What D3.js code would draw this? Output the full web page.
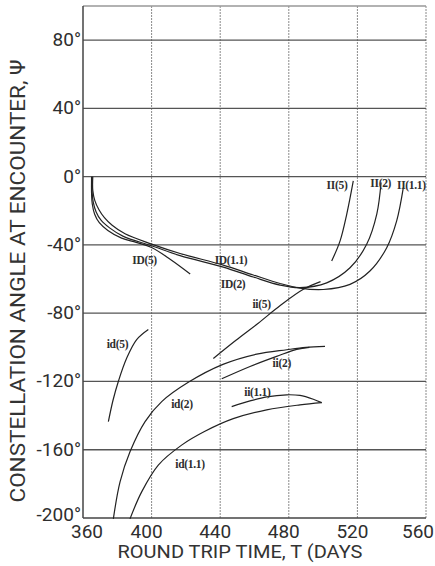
<!DOCTYPE html>
<html>
<head>
<meta charset="utf-8">
<script src="https://cdn.jsdelivr.net/npm/d3@7"></script>
<style>
  body { margin: 0; background: #fff; }
  .tick-label { font-family: Roboto, sans-serif; fill: #2e2e2e; }
  .axis-title { font-family: Roboto, sans-serif; fill: #333; }
  .curve-label { font-family: "Liberation Serif", serif; font-weight: bold; font-size: 11.5px; letter-spacing: -0.3px; fill: #2e2e2e; }
  .curve { fill: none; stroke: #222; stroke-width: 1.2; }
</style>
</head>
<body>
<div id="chart"></div>
<script>
// tick values
let xTicks = [360, 400, 440, 480, 520, 560];
let yTicks = [80, 40, 0, -40, -80, -120, -160, -200];

// curves, [T (days), psi (deg)]
let curveID5 = [[365, 0], [365, -10], [365.4, -16], [366.8, -22], [369.5, -27], [374.5, -31.5], [382.5, -36], [391, -38.5], [400, -41.5], [411, -48.5], [422.5, -57]];
let curveID2 = [[365.3, 0], [365.3, -9], [366, -15], [367.6, -20.5], [370.5, -25.5], [375.5, -30], [383.5, -35], [400, -40.5], [416.6, -46.3], [441.8, -53], [459.3, -58.8], [474.9, -63.5], [486.5, -65], [502.1, -62.2], [515.7, -53.4], [525.4, -39.6], [531.3, -21.9], [533.8, -3.4]];
let curveID11 = [[365.7, 0], [365.7, -8], [366.9, -14], [369.4, -19.5], [372.5, -24], [377, -28.5], [384.5, -33.5], [400, -39.5], [416.6, -45], [441.8, -51.8], [459.3, -57.6], [474.9, -62.6], [486.5, -65.3], [500.1, -66.1], [515.7, -63.1], [527.3, -55.3], [537.1, -41.6], [542.9, -25.9], [546.8, -6.3]];
let curveII5 = [[517.6, -2.5], [513.8, -21.9], [509.9, -37.6], [505, -49.4]];
let curveii5 = [[436, -106.5], [449, -96], [462, -86], [475, -75.5], [488.5, -66], [498.5, -61.5]];
let curveid5 = [[374.8, -143.5], [377.5, -131], [380.6, -120], [385.5, -106.3], [391.3, -95.5], [398.1, -89.6]];
let curveid2 = [[377.7, -200.5], [381.6, -178.8], [387.4, -161.2], [396.2, -143.5], [405.9, -131.8], [421.4, -120.5], [441.6, -110], [461.3, -104], [478.8, -101.4], [490, -100], [501.1, -99.4]];
let curveii2 = [[440.9, -118.4], [457.4, -111.2], [472.9, -105.3], [484.6, -101.2], [492, -100]];
let curveid11 = [[387.4, -200.5], [394.2, -184.7], [403.9, -169], [417.5, -157.3], [431.1, -149.2], [447.6, -141.8], [467.1, -136.6], [486.5, -133.7], [499.2, -132.4]];
let curveii11 = [[446.7, -134.7], [457.4, -131.4], [467.1, -129], [478.8, -127.8], [486.5, -128.2], [494.3, -130.4], [499.2, -132.4]];

let curves = [curveID5, curveID2, curveID11, curveII5, curveii5, curveid5, curveid2, curveii2, curveid11, curveii11];

// curve labels, placed at [T, psi]
let labelText = ["ID(5)", "ID(1.1)", "ID(2)", "II(5)", "II(2)", "II(1.1)", "ii(5)", "id(5)", "ii(2)", "ii(1.1)", "id(2)", "id(1.1)"];
let labelPos = [[395.9, -48.8], [446.3, -48.8], [447.5, -62.9], [508.1, -4.7], [533.6, -3.5], [551.5, -4.7], [464.1, -74.7], [380.1, -98.2], [475.9, -109.4], [461.7, -125.9], [417.7, -133.4], [422.4, -168.6]];

let width = 435, height = 566;
let margin = {top: 6, right: 9, bottom: 48, left: 83};

let svg = d3.select("#chart").append("svg")
    .attr("width", width)
    .attr("height", height);

let xScale = d3.scaleLinear()
    .domain([360, 560])
    .range([margin.left, width - margin.right]);
let yScale = d3.scaleLinear()
    .domain([-200, 100])
    .range([height - margin.bottom, margin.top]);

// vertical grid lines (dotted)
svg.append("g").selectAll("line")
    .data(xTicks.slice(1))
    .enter().append("line")
    .attr("x1", d => xScale(d))
    .attr("x2", d => xScale(d))
    .attr("y1", yScale(100))
    .attr("y2", yScale(-200))
    .attr("stroke", "#8a8a8a")
    .attr("stroke-width", 1)
    .attr("stroke-dasharray", "2,1");

// horizontal grid lines (solid), incl. top border
svg.append("g").selectAll("line")
    .data(yTicks.slice(0, -1).concat([100]))
    .enter().append("line")
    .attr("x1", xScale(360))
    .attr("x2", xScale(560))
    .attr("y1", d => yScale(d))
    .attr("y2", d => yScale(d))
    .attr("stroke", d => d == 100 ? "#999" : "#555")
    .attr("stroke-width", 1.3);

// axes lines
svg.append("line")
    .attr("x1", xScale(360)).attr("x2", xScale(360))
    .attr("y1", yScale(100)).attr("y2", yScale(-200))
    .attr("stroke", "#444").attr("stroke-width", 1.5);
svg.append("line")
    .attr("x1", xScale(360)).attr("x2", xScale(560))
    .attr("y1", yScale(-200)).attr("y2", yScale(-200))
    .attr("stroke", "#444").attr("stroke-width", 1.5);

// tick labels
svg.append("g").selectAll("text")
    .data(yTicks)
    .enter().append("text").classed("tick-label", true)
    .attr("x", xScale(360) - 2)
    .attr("y", d => yScale(d) + (d == -200 ? 3 : 6))
    .attr("text-anchor", "end")
    .attr("font-size", 19)
    .text(d => d + "°");

// hand lettering sits a little left of the grid lines
let xLabelShift = d => d == 360 ? 4 : (d == 560 ? -8 : -5);
svg.append("g").selectAll("text")
    .data(xTicks)
    .enter().append("text").classed("tick-label", true)
    .attr("x", d => xScale(d) + xLabelShift(d))
    .attr("y", yScale(-200) + 20)
    .attr("text-anchor", "middle")
    .attr("font-size", 19)
    .text(d => d);

// axis titles
svg.append("text").classed("axis-title", true)
    .attr("x", 240)
    .attr("y", 558)
    .attr("text-anchor", "middle")
    .attr("font-size", 18)
    .attr("textLength", 245)
    .attr("lengthAdjust", "spacingAndGlyphs")
    .text("ROUND TRIP TIME, T (DAYS");

svg.append("text").classed("axis-title", true)
    .attr("transform", "translate(25,281) rotate(-90)")
    .attr("text-anchor", "middle")
    .attr("font-size", 20)
    .attr("textLength", 443)
    .attr("lengthAdjust", "spacingAndGlyphs")
    .text("CONSTELLATION ANGLE AT ENCOUNTER, Ψ");

// curves
let line = d3.line()
    .x(d => xScale(d[0]))
    .y(d => yScale(d[1]))
    .curve(d3.curveCatmullRom.alpha(0.5));

svg.append("g").selectAll("path")
    .data(curves)
    .enter().append("path").classed("curve", true)
    .attr("d", d => line(d));

// curve labels
svg.append("g").selectAll("text")
    .data(labelText)
    .enter().append("text").classed("curve-label", true)
    .attr("x", (d, i) => xScale(labelPos[i][0]))
    .attr("y", (d, i) => yScale(labelPos[i][1]) + 4)
    .attr("text-anchor", "middle")
    .text(d => d);
</script>
</body>
</html>
